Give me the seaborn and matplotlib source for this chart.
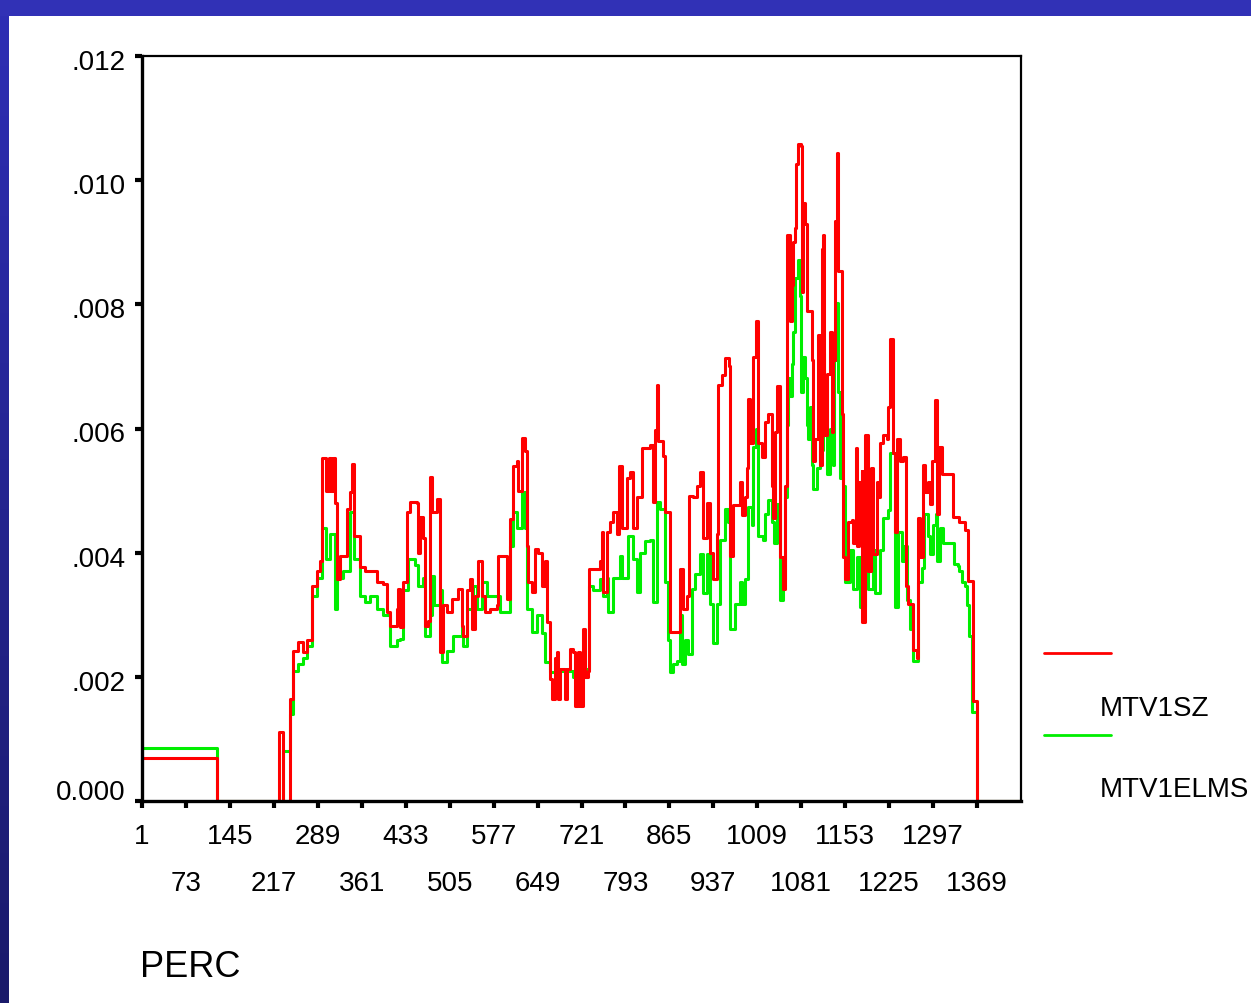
import numpy as np
import pandas as pd
import matplotlib
matplotlib.use("Agg")
import matplotlib.pyplot as plt
from matplotlib.lines import Line2D
from matplotlib.patches import Rectangle
from matplotlib.colors import LinearSegmentedColormap
from matplotlib.transforms import ScaledTranslation
import seaborn as sns

# Sequence chart of two series against case number (PERC)
sz_case = [1, 122, 124, 222, 225, 230, 232, 240, 243, 248, 256, 265, 271, 279, 288, 293,
           296, 302, 307, 311, 314, 317, 320, 325, 330, 337, 342, 345, 348, 355, 358, 366,
           374, 386, 396, 402, 407, 419, 420, 424, 429, 435, 440, 452, 453, 456, 461, 465,
           469, 473, 476, 484, 489, 494, 501, 509, 519, 525, 527, 533, 538, 542, 546, 551,
           558, 563, 571, 583, 584, 596, 599, 604, 609, 615, 617, 623, 628, 632, 633, 640,
           645, 650, 656, 661, 664, 669, 673, 677, 681, 682, 686, 694, 697, 702, 707, 710,
           715, 718, 723, 727, 731, 733, 740, 751, 754, 756, 763, 767, 772, 779, 782, 787,
           795, 800, 805, 812, 820, 833, 838, 841, 844, 846, 854, 858, 862, 866, 877, 882,
           887, 894, 897, 903, 910, 915, 920, 926, 931, 936, 943, 944, 951, 956, 962, 964,
           969, 976, 980, 984,
           989, 992, 994, 997, 1002, 1007, 1010, 1016, 1021, 1026, 1033, 1034, 1038, 1041,
           1046, 1051, 1054, 1057, 1062, 1066, 1067, 1071, 1072, 1075, 1080, 1082, 1084,
           1087, 1090, 1095, 1098, 1100, 1103, 1108, 1111, 1115, 1116, 1119, 1124, 1128,
           1131, 1133, 1136, 1139, 1141, 1147, 1149, 1152, 1157, 1164, 1165, 1170, 1172,
           1175, 1180, 1181, 1186, 1190, 1196, 1198, 1205, 1206, 1210, 1215, 1221, 1223,
           1226, 1231, 1234, 1238, 1242, 1247, 1252, 1256, 1262, 1264, 1270, 1272, 1275,
           1280, 1283, 1288, 1292, 1295, 1300, 1303, 1306, 1311, 1329, 1330, 1340, 1349,
           1354, 1360, 1362, 1367, 1369, 1441]
mtv1sz = [0.00069, 0.00069, 0, 0, 0.00111, 0.00111, 0, 0, 0.00165, 0.00242, 0.00256, 0.0024,
          0.0026, 0.00347, 0.0037, 0.00386, 0.00552, 0.0050, 0.00552, 0.0050, 0.00552, 0.0048,
          0.00358, 0.00395, 0.00395, 0.0047, 0.00498, 0.00543, 0.00427, 0.00427, 0.00377,
          0.0037, 0.0037, 0.00353, 0.0035, 0.00305, 0.00282, 0.0031, 0.00342, 0.0028, 0.00353,
          0.00466, 0.00482, 0.0048, 0.0040, 0.00458, 0.00423, 0.00282, 0.0029, 0.00522,
          0.00466, 0.00487, 0.0024, 0.00315, 0.00305, 0.00326, 0.00342, 0.00282, 0.00266,
          0.0034, 0.00358, 0.00277, 0.0033, 0.00386, 0.0033, 0.00305, 0.0031, 0.00315,
          0.00395, 0.00395, 0.00326, 0.00455, 0.0054, 0.00547, 0.0050, 0.00584, 0.00563,
          0.00411, 0.00353, 0.00337, 0.00406, 0.0040, 0.00347, 0.00386, 0.00289, 0.00197,
          0.00165, 0.0023, 0.0024, 0.00165, 0.00213, 0.00165, 0.00213, 0.00245, 0.0024,
          0.00153, 0.0024, 0.00153, 0.00277, 0.0020, 0.0021, 0.00374, 0.00374, 0.00387,
          0.00434, 0.00337, 0.00434, 0.0045, 0.00466, 0.0043, 0.00539, 0.0044, 0.0052,
          0.0053, 0.0044, 0.0049, 0.00568, 0.00573, 0.00482, 0.00597, 0.0067, 0.0058,
          0.00555, 0.00466, 0.00466, 0.00273, 0.00273, 0.00374, 0.0031, 0.0033, 0.00492,
          0.0049, 0.00508, 0.0053, 0.00423, 0.0048, 0.0040, 0.00358, 0.0043, 0.0067, 0.00686,
          0.00713, 0.0070, 0.00395, 0.00476, 0.00476, 0.00514, 0.0046,
          0.0049, 0.00537, 0.00647, 0.00577, 0.00715, 0.00773, 0.00577, 0.00554, 0.00611,
          0.00623, 0.00508, 0.00456, 0.00594, 0.00669, 0.00393, 0.00341, 0.00508, 0.00911,
          0.00773, 0.00831, 0.0090, 0.00923, 0.01026, 0.01058, 0.01055, 0.0082, 0.00963,
          0.00929, 0.0079, 0.0079, 0.0071, 0.00548, 0.00583, 0.0075, 0.00542, 0.00889,
          0.00911, 0.00589, 0.00687, 0.00755, 0.00594, 0.0071, 0.00934, 0.01044, 0.00853,
          0.00623, 0.00393, 0.00358, 0.0045, 0.00452, 0.00416, 0.00568, 0.0041, 0.00514,
          0.00531, 0.00289, 0.00589, 0.0037, 0.00537, 0.00398, 0.00514, 0.0049, 0.00577,
          0.00589, 0.00583, 0.00635, 0.00744, 0.0056, 0.00433, 0.00583, 0.00548, 0.00554,
          0.00347, 0.00318, 0.00318, 0.00244, 0.00231, 0.00456, 0.00393, 0.00542, 0.00497,
          0.00514, 0.00479, 0.00548, 0.00646, 0.00462, 0.00571, 0.00526, 0.00526, 0.00458,
          0.0045, 0.00436, 0.00355, 0.00355, 0.00161, 0.00161, 0, 0]

elms_case = [1, 122, 124, 229, 232, 240, 243, 248, 256, 265, 271, 279, 288, 296, 302, 309,
             317, 320, 330, 342, 348, 358, 366, 374, 386, 396, 407, 419, 424, 429, 437, 448,
             453, 461, 465, 473, 476, 479, 489, 492, 501, 510, 525, 527, 533, 543, 550, 558,
             566, 583, 587, 599, 604, 609, 615, 623, 628, 632, 640, 648, 656, 661, 669, 686,
             707, 730, 734, 740, 751, 756, 763, 764, 772, 784, 787, 797, 805, 812, 817, 825,
             833, 838, 844, 849,
             858, 862, 866, 871, 877, 882, 885, 890, 895, 902, 907, 915, 920, 926, 931, 936,
             943, 948, 956, 961, 964, 972, 980, 984, 989, 994, 1001, 1002, 1007, 1010, 1018,
             1021, 1026, 1033, 1036, 1041, 1046, 1051, 1054, 1057, 1059, 1062, 1066, 1067,
             1071, 1075, 1079, 1080, 1084, 1087, 1090, 1092, 1095, 1098, 1101, 1106, 1111,
             1116, 1119, 1123, 1128, 1133, 1134, 1139, 1142, 1144, 1149, 1152, 1161, 1165,
             1172, 1177, 1185, 1190, 1198, 1201, 1210, 1215, 1223, 1226, 1234, 1239, 1246,
             1249, 1254, 1259, 1264, 1270, 1272, 1278, 1282, 1288, 1292, 1297, 1301, 1303,
             1308, 1313, 1332, 1337, 1340, 1345, 1349, 1352, 1355, 1360, 1367, 1369, 1441]
mtv1elms = [0.000855, 0.000855, 0, 0, 0.0008, 0.0008, 0.0014, 0.0021, 0.0022, 0.0023, 0.0025,
            0.0033, 0.0036, 0.0044, 0.0039, 0.0043, 0.0031, 0.0036, 0.0037, 0.00466, 0.0039,
            0.0033, 0.0032, 0.0033, 0.0031, 0.0030, 0.0025, 0.0026, 0.00261, 0.0034, 0.0039,
            0.0038, 0.00347, 0.0036, 0.00266, 0.0030, 0.00363, 0.00315, 0.0034, 0.00224,
            0.00242, 0.00266, 0.0028, 0.0025, 0.0031, 0.00347, 0.0031, 0.00353, 0.0033, 0.0033,
            0.00305, 0.00305, 0.00411, 0.00466, 0.0044, 0.00498, 0.0044, 0.0031, 0.00273,
            0.0030, 0.0027, 0.00224, 0.00208, 0.0021, 0.0020, 0.00213, 0.00347, 0.0034,
            0.00358, 0.0033, 0.0036, 0.00305, 0.0036, 0.00395, 0.0036, 0.00427, 0.0039,
            0.00337, 0.0040, 0.00418, 0.0042, 0.00321, 0.00482, 0.0047,
            0.00352, 0.0026, 0.00208, 0.0022, 0.00226, 0.003, 0.0022, 0.0026, 0.00237, 0.00341,
            0.00365, 0.00398, 0.00335, 0.00398, 0.00318, 0.00255, 0.00318, 0.00421, 0.00471,
            0.0045, 0.00277, 0.00318, 0.00352, 0.00318, 0.00358, 0.00473, 0.00445, 0.00571,
            0.006, 0.00427, 0.00421, 0.00462, 0.00485, 0.0045, 0.00416, 0.00479, 0.00324,
            0.00358, 0.0049, 0.00606, 0.00681, 0.00652, 0.00704, 0.00755, 0.00842, 0.00871,
            0.00813, 0.00658, 0.00715, 0.00681, 0.00606, 0.00583, 0.00635, 0.00542, 0.00502,
            0.00537, 0.00566, 0.00721, 0.00589, 0.00526, 0.006, 0.00542, 0.0071, 0.00802,
            0.00658, 0.0052, 0.00508, 0.00352, 0.00405, 0.00341, 0.00393, 0.00312, 0.00439,
            0.00341, 0.00405, 0.00335, 0.00405, 0.00456, 0.00468, 0.0056, 0.00312, 0.00433,
            0.00387, 0.0041, 0.00324, 0.00277, 0.00226, 0.00226, 0.00352, 0.00376, 0.00462,
            0.00427, 0.00398, 0.00445, 0.00462, 0.00387, 0.00439, 0.00416, 0.00381, 0.00379,
            0.0037, 0.00352, 0.00347, 0.00315, 0.00266, 0.00144, 0.00144, 0, 0]

series_names = ["MTV1SZ", "MTV1ELMS"]
series_colors = {"MTV1SZ": "#ff0000", "MTV1ELMS": "#00ee00"}

y_ticks = [0.0, 0.002, 0.004, 0.006, 0.008, 0.010, 0.012]
y_tick_labels = ["0.000", ".002", ".004", ".006", ".008", ".010", ".012"]
x_ticks_upper = [1, 145, 289, 433, 577, 721, 865, 1009, 1153, 1297]
x_ticks_lower = [73, 217, 361, 505, 649, 793, 937, 1081, 1225, 1369]
x_max = 1441

df = pd.concat([
    pd.DataFrame({"PERC": elms_case, "value": mtv1elms, "series": "MTV1ELMS"}),
    pd.DataFrame({"PERC": sz_case, "value": mtv1sz, "series": "MTV1SZ"}),
], ignore_index=True)

sns.set_theme(style="white")
plt.rcParams["font.family"] = ["Liberation Sans", "DejaVu Sans"]
plt.rcParams["text.color"] = "black"
plt.rcParams["xtick.color"] = "black"
plt.rcParams["ytick.color"] = "black"

fig = plt.figure(figsize=(12.51, 10.04), dpi=100)
fig.patch.set_facecolor("white")

# slide frame: blue band along the top, darkening band down the left edge
fig.add_artist(Rectangle((0, 1 - 17 / 1004), 1, 17 / 1004, transform=fig.transFigure,
                         facecolor="#3131b6", edgecolor="none", zorder=0))
band = fig.add_axes([0, 0, 9 / 1251, 1 - 17 / 1004])
grad = np.linspace(0, 1, 256).reshape(-1, 1)
band_cmap = LinearSegmentedColormap.from_list("band", ["#2e2eb4", "#1a1a6a"])
band.imshow(grad, aspect="auto", cmap=band_cmap, extent=[0, 1, 0, 1])
band.set_axis_off()

ax = fig.add_axes([142 / 1251, 1 - 802 / 1004, (1021 - 142) / 1251, (802 - 57) / 1004])
sns.lineplot(data=df, x="PERC", y="value", hue="series", units="series",
             palette=series_colors, hue_order=["MTV1ELMS", "MTV1SZ"],
             estimator=None, sort=False, legend=False, linewidth=2.2,
             drawstyle="steps-post", ax=ax)

ax.set_xlim(1, x_max)
ax.set_ylim(0, 0.012)
ax.set_xlabel("")
ax.set_ylabel("")
ax.set_yticks(y_ticks)
ax.set_yticklabels(y_tick_labels)
ax.set_xticks(x_ticks_upper)
ax.set_xticklabels([str(v) for v in x_ticks_upper])
ax.set_xticks(x_ticks_lower, minor=True)
ax.set_xticklabels([str(v) for v in x_ticks_lower], minor=True)
ax.tick_params(axis="x", which="major", direction="out", length=5, width=3,
               color="black", labelcolor="black", labelsize=20, pad=11)
ax.tick_params(axis="x", which="minor", direction="out", length=5, width=3,
               color="black", labelcolor="black", labelsize=20, pad=45)
ax.tick_params(axis="y", direction="out", length=5, width=3, color="black",
               labelcolor="black", labelsize=20, pad=7, left=True)
ax.tick_params(axis="x", bottom=True, which="both")
for side in ["top", "right"]:
    ax.spines[side].set_linewidth(1.6)
    ax.spines[side].set_color("black")
for side in ["left", "bottom"]:
    ax.spines[side].set_linewidth(2.4)
    ax.spines[side].set_color("black")
ax.set_facecolor("white")

# value labels sit a little below their ticks; the zero label is lifted off the axis
for lbl in ax.get_yticklabels():
    dy = 12 if lbl.get_text() == "0.000" else -3
    lbl.set_transform(lbl.get_transform() + ScaledTranslation(0, dy / 100, fig.dpi_scale_trans))

fig.text(140 / 1251, 1 - 968 / 1004, "PERC", fontsize=26, ha="left", va="center")

# legend: sample line with its name set below it
legend_rows = [(654, 709), (736, 790)]
for name, (line_y, text_y) in zip(series_names, legend_rows):
    fig.add_artist(Line2D([1044 / 1251, 1111 / 1251], [1 - line_y / 1004, 1 - line_y / 1004],
                          transform=fig.transFigure, color=series_colors[name], linewidth=2))
    fig.text(1100 / 1251, 1 - text_y / 1004, name, fontsize=20, ha="left", va="center")

fig.savefig("out.png", dpi=100, facecolor="white")
